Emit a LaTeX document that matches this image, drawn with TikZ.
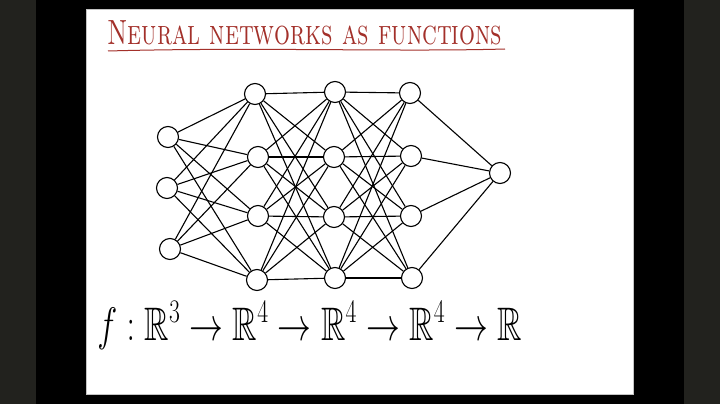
\documentclass[tikz,border=0pt]{standalone}
\usepackage{fix-cm}
\usepackage{fontspec}
\usepackage{amsmath,amssymb}
\usepackage{xcolor}
\usepackage{tikz}
\usetikzlibrary{positioning}
\definecolor{stripgray}{HTML}{22221E}
\definecolor{inkred}{HTML}{A3302A}
\definecolor{pageedge}{HTML}{C4C4C4}
\tikzset{neuron/.style={circle,draw=black,line width=1.1pt,fill=white,minimum size=21pt,inner sep=0pt}}

\begin{document}
\begin{tikzpicture}[x=1pt,y=-1pt,line width=1.1pt]
  \useasboundingbox (0,0) rectangle (720,404);
  \fill[stripgray] (0,0) rectangle (720,404);
  \fill[black] (36,0) rectangle (684,404);
  \draw[pageedge,fill=white,line width=0.6pt] (86,9) rectangle (633,394);
  % title
  \node[inkred,anchor=base west,inner sep=0pt,xscale=0.715,
    font=\fontsize{35}{40}\selectfont\scshape] (title) at (107,45) {Neural networks as functions};
  \draw[inkred,line width=1pt] (108,51) .. controls (250,47) and (400,52) .. (505,49);
  % layers
  \foreach \n/\x/\y in {1/168/137,2/167/188,3/170/249}
    \node[neuron] (in\n) at (\x,\y) {};
  \foreach \n/\x/\y in {1/255/94,2/258/157,3/258/216,4/257/280}
    \node[neuron] (ha\n) at (\x,\y) {};
  \foreach \n/\x/\y in {1/335/92,2/334/157,3/334/217,4/335/278}
    \node[neuron] (hb\n) at (\x,\y) {};
  \foreach \n/\x/\y in {1/410/93,2/411/156,3/411/216,4/412/278}
    \node[neuron] (hc\n) at (\x,\y) {};
  \node[neuron] (out) at (500,173) {};
  % connections
  \foreach \i in {1,2,3}
    \foreach \j in {1,...,4}
      \draw (in\i) -- (ha\j);
  \foreach \i in {1,...,4}
    \foreach \j in {1,...,4} {
      \draw (ha\i) -- (hb\j);
      \draw (hb\i) -- (hc\j);
    }
  \foreach \i in {1,...,4}
    \draw (hc\i) -- (out);
  % the map
  \node[anchor=base west,inner sep=0pt,xscale=0.72,
    font=\fontsize{47}{52}\selectfont] (map) at (97,340)
    {$f : \mathbb{R}^3 \to \mathbb{R}^4 \to \mathbb{R}^4 \to \mathbb{R}^4 \to \mathbb{R}$};
\end{tikzpicture}
\end{document}
